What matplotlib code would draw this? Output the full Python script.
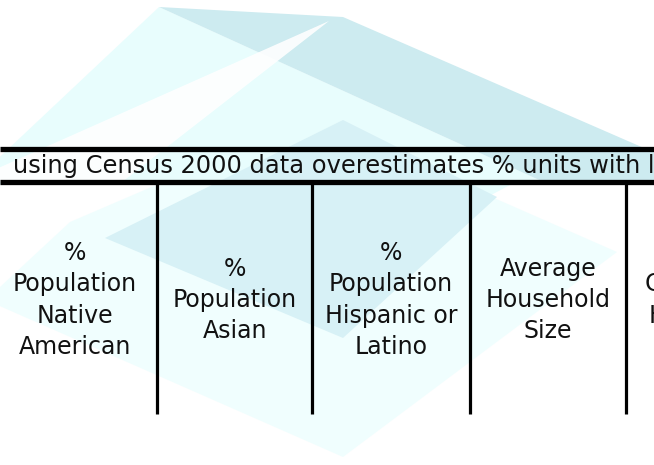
import matplotlib
matplotlib.use("Agg")
import matplotlib.pyplot as plt
from matplotlib.patches import Polygon

# --------------------------------
# DATOS
# --------------------------------

banner_text = "using Census 2000 data overestimates % units with lead-based paint"

headers = [
    "%\nPopulation\nNative\nAmerican",
    "%\nPopulation\nAsian",
    "%\nPopulation\nHispanic or\nLatino",
    "Average\nHousehold\nSize",
    "%\nCrowded\nHousing\nUnits",
]

# centros de columna y divisores (pixeles)
col_centers = [75, 235, 391, 548, 697]
col_dividers = [157, 312, 470, 626]

# --------------------------------
# FIGURA
# --------------------------------

fig = plt.figure(figsize=(6.54, 4.65), dpi=100)
ax = fig.add_axes([0, 0, 1, 1])
ax.set_xlim(0, 654)
ax.set_ylim(465, 0)
ax.axis("off")

# fondo: logo en tonos cian
PALE = "#E8FDFD"
PALE2 = "#F0FEFE"
MEDIUM = "#D7F1F6"
DARK = "#CDEBF0"

shapes = [
    ([(70, 222), (312, 118), (617, 252), (343, 457), (-14, 300)], PALE2, 1.0),
    ([(159, 7), (-12, 168), (-12, 184), (548, 184)], PALE, 1.0),
    ([(455, 184), (512, 184), (455, 214)], PALE, 1.0),
    ([(159, 7), (343, 17), (660, 155), (660, 184), (548, 184)], DARK, 1.0),
    ([(329, 21), (-33, 182), (122, 182)], "white", 0.9),
    ([(343, 120), (497, 197), (343, 338), (105, 238)], MEDIUM, 1.0),
]
for pts, color, alpha in shapes:
    ax.add_patch(Polygon(pts, closed=True, facecolor=color,
                         edgecolor="none", alpha=alpha, zorder=1))

# --------------------------------
# TABLA
# --------------------------------

ax.plot([0, 654], [149.5, 149.5], color="black", linewidth=3.8, zorder=3,
        solid_capstyle="butt")
ax.plot([0, 654], [182.5, 182.5], color="black", linewidth=3.8, zorder=3,
        solid_capstyle="butt")

for x in col_dividers:
    ax.plot([x, x], [184, 414], color="black", linewidth=2.3, zorder=3,
            solid_capstyle="butt")

ax.text(13, 166, banner_text, ha="left", va="center",
        fontsize=17.4, color="#111111", zorder=4)

for cx, label in zip(col_centers, headers):
    ax.text(cx, 300, label, ha="center", va="center",
            fontsize=17, color="#111111", linespacing=1.38,
            multialignment="center", zorder=4)

plt.savefig("out.png", dpi=100)
